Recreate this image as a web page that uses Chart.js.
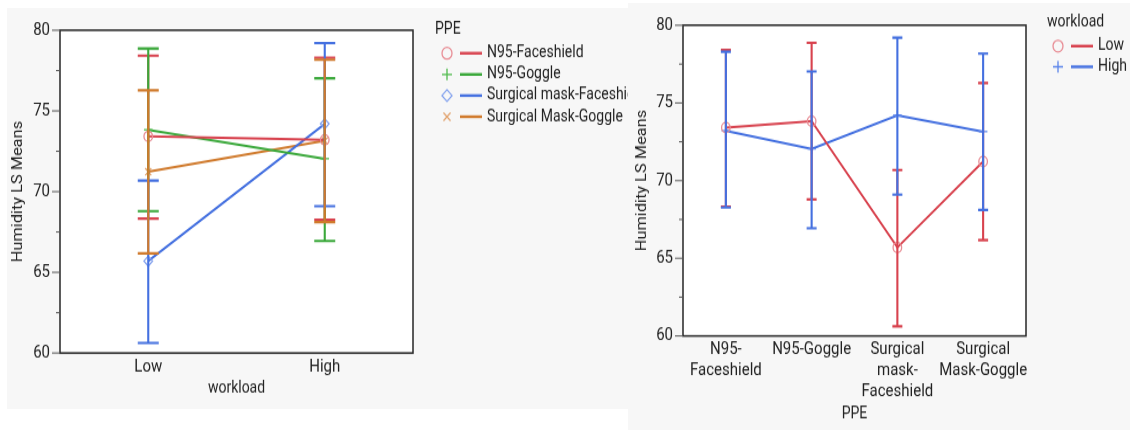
<!DOCTYPE html>
<html>
<head>
<meta charset="utf-8">
<title>Humidity LS Means by workload and PPE</title>
<script src="https://cdn.jsdelivr.net/npm/chart.js@4.4.1/dist/chart.umd.min.js"></script>
<style>
  html, body { margin: 0; padding: 0; background: #ffffff; }
  body { width: 1130px; height: 430px; position: relative; overflow: hidden; }
  .panel { position: absolute; background: #f7f7f7; overflow: hidden; }
  #leftPanel { left: 7px; top: 8px; width: 621px; height: 401px; }
  #rightPanel { left: 628px; top: 3px; width: 502px; height: 427px; }
  /* the report panels are drawn with a slightly tall aspect */
  .stretch { transform-origin: 0 0; }
  #leftStretch { transform: scaleY(1.16910); }
  #rightStretch { transform: scaleY(1.16986); }
  canvas { display: block; }
</style>
</head>
<body>
<div class="panel" id="leftPanel"><div class="stretch" id="leftStretch"><canvas id="byWorkload" width="621" height="343"></canvas></div></div>
<div class="panel" id="rightPanel"><div class="stretch" id="rightStretch"><canvas id="byPPE" width="502" height="365"></canvas></div></div>
<script>
// Factor levels
const workloadLevels = ['Low', 'High'];
const ppeTypes = ['N95-Faceshield', 'N95-Goggle', 'Surgical mask-Faceshield', 'Surgical Mask-Goggle'];
const ppeTickLabels = [['N95-', 'Faceshield'], ['N95-Goggle'], ['Surgical', 'mask-', 'Faceshield'], ['Surgical', 'Mask-Goggle']];

// Least-squares means of humidity with their confidence limits, per PPE
const lowMeans  = [73.42, 73.83, 65.70, 71.23];
const lowLower  = [68.33, 68.79, 60.62, 66.17];
const lowUpper  = [78.42, 78.87, 70.68, 76.28];
const highMeans = [73.21, 72.04, 74.20, 73.15];
const highLower = [68.27, 66.94, 69.10, 68.11];
const highUpper = [78.30, 77.02, 79.20, 78.17];

// Response axis
const yMin = 60, yMax = 80, yStep = 5;

const FONT = "Roboto, 'Noto Sans', sans-serif";
const TEXT = '#222222';

const ppeStyle = [
  { line: '#d8424e', mark: '#e88c94', point: 'circle' },
  { line: '#3aa83a', mark: '#4fbb4c', point: 'cross' },
  { line: '#4470e0', mark: '#86a4ee', point: 'rectRot' },
  { line: '#d07a2c', mark: '#e2a470', point: 'crossRot' }
];
const workloadStyle = [
  { line: '#d8424e', mark: '#e88c94', point: 'circle' },
  { line: '#4470e0', mark: '#5a84ea', point: 'cross' }
];

Chart.defaults.font.family = FONT;
Chart.defaults.color = TEXT;

function makeDataset(label, means, lower, upper, style) {
  return {
    label: label,
    data: means,
    lower: lower,
    upper: upper,
    borderColor: style.line,
    borderWidth: 2,
    pointStyle: style.point,
    pointRadius: 4.3,
    pointBorderWidth: 1.3,
    pointBorderColor: style.mark,
    pointBackgroundColor: 'rgba(0,0,0,0)',
    pointHoverRadius: 4.3,
    fill: false,
    tension: 0,
    legendMark: style.mark
  };
}

// Plot frame, white plotting region, y ticks, error bars and the legend
const framePlugin = {
  id: 'framePlugin',
  beforeDatasetsDraw(chart) {
    const a = chart.chartArea, ctx = chart.ctx;
    ctx.save();
    ctx.fillStyle = '#ffffff';
    ctx.fillRect(a.left, a.top, a.right - a.left, a.bottom - a.top);
    ctx.restore();
  },
  afterDatasetsDraw(chart, args, opts) {
    const ctx = chart.ctx, xs = chart.scales.x, ys = chart.scales.y;
    ctx.save();
    ctx.lineCap = 'butt';
    chart.data.datasets.forEach((ds) => {
      ctx.strokeStyle = ds.borderColor;
      ctx.lineWidth = 2.1;
      ds.data.forEach((v, j) => {
        const x = xs.getPixelForValue(j);
        const yl = ys.getPixelForValue(ds.lower[j]);
        const yu = ys.getPixelForValue(ds.upper[j]);
        ctx.beginPath();
        ctx.moveTo(x, yl); ctx.lineTo(x, yu);
        ctx.moveTo(x - opts.cap, yl); ctx.lineTo(x + opts.cap, yl);
        ctx.moveTo(x - opts.cap, yu); ctx.lineTo(x + opts.cap, yu);
        ctx.stroke();
      });
    });
    ctx.restore();
  },
  afterDraw(chart, args, opts) {
    const a = chart.chartArea, ctx = chart.ctx, ys = chart.scales.y;
    ctx.save();
    // frame
    ctx.strokeStyle = '#262626';
    ctx.lineWidth = 1.5;
    ctx.strokeRect(a.left, a.top, a.right - a.left, a.bottom - a.top);
    // major and minor ticks on the response axis
    ctx.strokeStyle = '#555555';
    ctx.lineWidth = 1;
    for (let v = yMin; v <= yMax + 1e-9; v += yStep / 2) {
      const y = ys.getPixelForValue(v);
      const len = (Math.abs(v / yStep - Math.round(v / yStep)) < 1e-6) ? 8 : 4;
      ctx.beginPath();
      ctx.moveTo(a.left - len, y); ctx.lineTo(a.left, y);
      ctx.stroke();
    }
    // legend
    const lg = opts.legend;
    ctx.fillStyle = TEXT;
    ctx.textBaseline = 'middle';
    ctx.textAlign = 'left';
    ctx.font = '14px ' + FONT;
    ctx.fillText(lg.title, lg.titleX, lg.titleY);
    chart.data.datasets.forEach((ds, i) => {
      const y = lg.rowY + i * lg.rowGap;
      ctx.strokeStyle = ds.legendMark;
      ctx.fillStyle = 'rgba(0,0,0,0)';
      ctx.lineWidth = 1.3;
      Chart.helpers.drawPoint(ctx, { pointStyle: ds.pointStyle, rotation: 0, radius: 5, borderWidth: 1.3 }, lg.markX, y);
      ctx.strokeStyle = ds.borderColor;
      ctx.lineWidth = 2.4;
      ctx.beginPath();
      ctx.moveTo(lg.lineX0, y); ctx.lineTo(lg.lineX1, y);
      ctx.stroke();
      ctx.fillStyle = TEXT;
      ctx.fillText(ds.label, lg.textX, y);
    });
    ctx.restore();
  }
};

function yScale(width, titlePad) {
  return {
    type: 'linear',
    min: yMin, max: yMax,
    grid: { display: false, drawTicks: false },
    border: { display: false },
    ticks: { stepSize: yStep, padding: 10, color: TEXT, font: { size: 15 } },
    title: { display: true, text: 'Humidity LS Means', color: TEXT, font: { size: 14 }, padding: { top: titlePad, bottom: 0 } },
    afterFit(s) { s.width = width; }
  };
}

function xScale(labels, height, title, titlePad) {
  return {
    type: 'category',
    labels: labels,
    offset: true,
    grid: { display: false, drawTicks: false },
    border: { display: false },
    ticks: { padding: 3, color: TEXT, font: { size: 15, lineHeight: 1.2 }, maxRotation: 0, autoSkip: false },
    title: { display: true, text: title, color: TEXT, font: { size: 14 }, padding: { top: 0, bottom: titlePad } },
    afterFit(s) { s.height = height; }
  };
}

function commonOptions() {
  return {
    responsive: false,
    animation: false,
    devicePixelRatio: 1,
    events: [],
    plugins: { legend: { display: false }, tooltip: { enabled: false } }
  };
}

// Left panel: means across workload, one line per PPE
const leftOpts = commonOptions();
leftOpts.layout = { padding: { left: 0, top: 7.7, right: 215, bottom: 0 } };
leftOpts.scales = { x: xScale(workloadLevels, 47.9, 'workload', 9.5), y: yScale(53, 2.6) };
leftOpts.plugins.framePlugin = {
  cap: 10.5,
  legend: { title: 'PPE', titleX: 428, titleY: 18, rowY: 38.7, rowGap: 18.1, markX: 440, lineX0: 453, lineX1: 475, textX: 480 }
};
new Chart(document.getElementById('byWorkload'), {
  type: 'line',
  data: {
    labels: workloadLevels,
    datasets: ppeTypes.map((p, i) => makeDataset(p,
      [lowMeans[i], highMeans[i]],
      [lowLower[i], highLower[i]],
      [lowUpper[i], highUpper[i]],
      ppeStyle[i]))
  },
  options: leftOpts,
  plugins: [framePlugin]
});

// Right panel: means across PPE, one line per workload level
const rightOpts = commonOptions();
rightOpts.layout = { padding: { left: 0, top: 7.4, right: 104, bottom: 0 } };
rightOpts.scales = { x: xScale(ppeTickLabels, 80.4, 'PPE', 5.3), y: yScale(55, 5.6) };
rightOpts.plugins.framePlugin = {
  cap: 5,
  legend: { title: 'workload', titleX: 419, titleY: 16, rowY: 36.8, rowGap: 17.7, markX: 430, lineX0: 443, lineX1: 465, textX: 470 }
};
new Chart(document.getElementById('byPPE'), {
  type: 'line',
  data: {
    labels: ppeTickLabels,
    datasets: [
      makeDataset(workloadLevels[0], lowMeans, lowLower, lowUpper, workloadStyle[0]),
      makeDataset(workloadLevels[1], highMeans, highLower, highUpper, workloadStyle[1])
    ]
  },
  options: rightOpts,
  plugins: [framePlugin]
});
</script>
</body>
</html>
